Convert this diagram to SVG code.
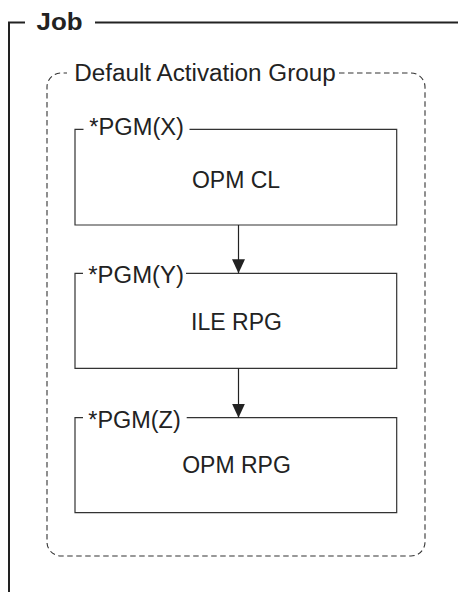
<svg xmlns="http://www.w3.org/2000/svg" width="458" height="592" viewBox="0 0 458 592">
<defs>
<style>
text{font-family:"Liberation Sans",Arial,Helvetica,sans-serif;fill:#222;}
.lbl{font-size:23px;}
.title{font-size:23px;font-weight:bold;}
.frame{fill:none;stroke:#222;stroke-width:2;}
.grp{fill:none;stroke:#333;stroke-width:1.1;stroke-dasharray:5.5 3.5;}
.box{fill:none;stroke:#333;stroke-width:1.2;}
.conn{fill:none;stroke:#222;stroke-width:1.2;}
</style>
<marker id="ah" viewBox="0 0 14 13" refX="14" refY="6.5" markerWidth="14" markerHeight="13" markerUnits="userSpaceOnUse" orient="auto">
<path d="M0,0 L14,6.5 L0,13 Z" fill="#222"/>
</marker>
</defs>
<g id="job">
<path class="frame" d="M25,22.5 H9 V592 M95,22.5 H458"/>
<text class="title" x="36.5" y="30" textLength="46" lengthAdjust="spacingAndGlyphs">Job</text>
</g>
<g id="default-activation-group">
<path class="grp" d="M339,73 H411 A14,14 0 0 1 425,87 V542 A14,14 0 0 1 411,556 H61 A14,14 0 0 1 47,542 V87 A14,14 0 0 1 61,73 H67"/>
<text class="lbl" x="74.3" y="81" textLength="261.4" lengthAdjust="spacingAndGlyphs">Default Activation Group</text>
</g>
<g id="pgm-x">
<path class="box" d="M83.5,129.3 H75 V225 H396.7 V129.3 H189.5"/>
<text class="lbl" x="89.3" y="135" textLength="94.7" lengthAdjust="spacingAndGlyphs">*PGM(X)</text>
<text class="lbl" x="236" y="188" text-anchor="middle">OPM CL</text>
</g>
<g id="pgm-y">
<path class="box" d="M83,273.3 H75 V368.3 H396.7 V273.3 H186"/>
<text class="lbl" x="88.3" y="283.3" textLength="95.7" lengthAdjust="spacingAndGlyphs">*PGM(Y)</text>
<text class="lbl" x="236.5" y="330" text-anchor="middle">ILE RPG</text>
</g>
<g id="pgm-z">
<path class="box" d="M83,417.7 H75 V512.7 H396.7 V417.7 H186.7"/>
<text class="lbl" x="88.3" y="427.5" textLength="92.4" lengthAdjust="spacingAndGlyphs">*PGM(Z)</text>
<text class="lbl" x="236.5" y="473.3" text-anchor="middle">OPM RPG</text>
</g>
<g id="connectors">
<line class="conn" x1="238.5" y1="225" x2="238.5" y2="273.3" marker-end="url(#ah)"/>
<line class="conn" x1="238.5" y1="368.3" x2="238.5" y2="417.7" marker-end="url(#ah)"/>
</g>
</svg>
